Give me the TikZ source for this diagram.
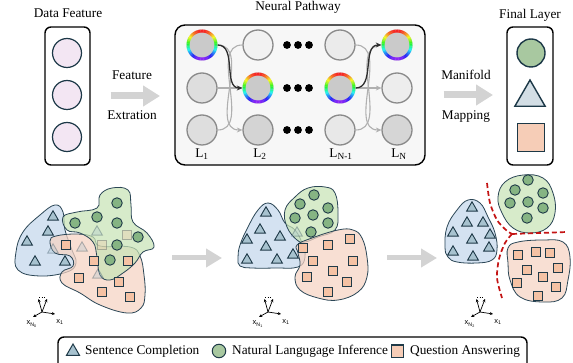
\documentclass[tikz,border=0pt]{standalone}
\usepackage{fontspec}
\setmainfont{Liberation Serif}
\newfontfamily\axfont{Liberation Sans}
\usetikzlibrary{arrows.meta,shapes.geometric,calc}
\definecolor{navy}{HTML}{1C3847}
\definecolor{pinkf}{HTML}{F3E6F3}
\definecolor{ngray}{HTML}{8A8A8A}
\definecolor{rainfill}{HTML}{CACACA}
\definecolor{lgray}{HTML}{B0B0B0}
\definecolor{dk}{HTML}{2E2E2E}
\definecolor{arrgray}{HTML}{D3D3D3}
\definecolor{panelbg}{HTML}{F7F7F7}
\definecolor{gfin}{HTML}{A8C8A0}
\definecolor{bfin}{HTML}{D3DEE5}
\definecolor{sfin}{HTML}{F6CDB7}
\definecolor{blobB}{HTML}{C4D8EC}
\definecolor{blobG}{HTML}{C8E4B6}
\definecolor{blobP}{HTML}{F6D3C3}
\definecolor{blobline}{HTML}{2B4656}
\definecolor{mkB}{HTML}{A7C2CF}
\definecolor{mkG}{HTML}{86B483}
\definecolor{mkS}{HTML}{F5C2A4}
\definecolor{mkline}{HTML}{1F3A48}
\definecolor{redd}{HTML}{C41414}
\newcommand\rainbowring[1]{%
  \foreach \a in {0,6,...,354}{%
    \pgfmathtruncatemacro\hh{135*(1+sin(\a+3))}%
    \definecolor{rc}{Hsb}{\hh,0.85,0.97}%
    \draw[rc, line width=3pt] ($(#1)+(\a:14)$) arc[start angle=\a, end angle=\a+6.6, radius=14];
  }}
\tikzset{
  lbl/.style={font=\fontsize{13.3}{15}\selectfont, inner sep=0, anchor=base},
  panel/.style={draw=black, line width=1.4pt, rounded corners=6pt, fill=white, inner sep=0},
  dfeat/.style={circle, draw=navy, line width=1.2pt, fill=pinkf, minimum size=29pt, inner sep=0},
  ncirc/.style={circle, draw=ngray, line width=1.3pt, minimum size=30pt, inner sep=0, fill=#1},
  nrain/.style={circle, minimum size=31pt, inner sep=0, fill=rainfill},
  conng/.style={draw=lgray, line width=1.1pt},
  connk/.style={draw=dk, line width=1.3pt},
  arrtip/.style={-{Stealth[length=5.5pt,width=5pt]}},
  fatarrow/.style={draw=arrgray, line width=7pt, -{Triangle[length=17pt,width=20pt]}},
  fatarrowsm/.style={draw=arrgray, line width=5pt, -{Triangle[length=16pt,width=18pt]}},
  blob/.style={draw=blobline, line width=0.8pt, fill=#1, fill opacity=0.72},
  tri/.style={regular polygon, regular polygon sides=3, draw=mkline, line width=0.9pt, fill=mkB, minimum size=12.5pt, inner sep=0},
  circm/.style={circle, draw=mkline, line width=0.9pt, fill=mkG, minimum size=10.5pt, inner sep=0},
  sqm/.style={rectangle, draw=mkline, line width=0.9pt, fill=mkS, minimum size=9.5pt, inner sep=0},
  faint/.style={opacity=0.3},
  reddash/.style={draw=redd, line width=1.7pt, dash pattern=on 5pt off 3pt},
  pics/axes/.style={code={
    \draw[line width=0.7pt, -{Stealth[length=3.2pt,width=3pt]}] (0,0) -- (13,2);
    \draw[line width=0.7pt, -{Stealth[length=3.2pt,width=3pt]}] (0,0) -- (-9,5);
    \draw[line width=0.7pt, -{Stealth[length=3.2pt,width=3pt]}] (0,0) -- (-3.5,-13);
    \draw[line width=0.7pt, -{Stealth[length=3.2pt,width=3pt]}] (0,0) -- (5,-13);
    \draw[line width=0.7pt, dotted] (-3,-14.5) -- (5,-14.5);
    \node[font=\axfont\fontsize{7.5}{8}\selectfont, inner sep=0] at (18,10) {x\textsubscript{1}};
    \node[font=\axfont\fontsize{7.5}{8}\selectfont, inner sep=0] at (-10,12) {x\textsubscript{N\textsubscript{#1}}};
  }}
}
\begin{document}
\begin{tikzpicture}[x=1pt,y=-1pt]
\useasboundingbox (0,0) rectangle (573,363);
\fill[white] (0,0) rectangle (573,363);

% ---------- top row ----------
\node[lbl] (tdata) at (68,17.7) {Data Feature};
\node[panel, minimum width=45pt, minimum height=138pt] (dbox) at (67.5,96) {};
\node[dfeat] (df1) at (67,53) {};
\node[dfeat] (df2) at (67,95) {};
\node[dfeat] (df3) at (67,137) {};

\draw[fatarrow, shorten <=20pt, shorten >=15pt] (dbox.east) -- (dbox.east -| 175,0);
\node[lbl] (tfeat) at (132,79.5) {Feature};
\node[lbl] (textr) at (132,119.3) {Extration};

\node[lbl] (tneur) at (298,10.7) {Neural Pathway};
\node[panel, fill=panelbg, rounded corners=10pt, minimum width=250pt, minimum height=140pt] (nbox) at (300,95) {};

% neural circles
\node[nrain] (n11) at (202,45) {};
\node[ncirc=black!13] (n12) at (202,88) {};
\node[ncirc=black!13] (n13) at (202,130) {};
\node[ncirc=black!5] (n21) at (258,45) {};
\node[nrain] (n22) at (258,88) {};
\node[ncirc=black!17] (n23) at (258,130) {};
\node[ncirc=black!8] (n31) at (340,45) {};
\node[nrain] (n32) at (340,88) {};
\node[ncirc=black!9] (n33) at (340,130) {};
\node[nrain] (n41) at (397,45) {};
\node[ncirc=black!7] (n42) at (397,88) {};
\node[ncirc=black!16] (n43) at (397,130) {};
\rainbowring{n11}
\rainbowring{n22}
\rainbowring{n32}
\rainbowring{n41}

\foreach \yy in {45,88,130}
  \foreach \xx in {287,298,309}
    \fill (\xx,\yy) circle (3.9);

% connectors
\draw[conng, arrtip] (n11.east) to[out=0,in=180] (n23.west);
\draw[conng] (n13.east) to[out=0,in=180] (n21.west);
\draw[conng] (n12.east) -- (n22.west);
\draw[connk, arrtip] (n11.east) to[out=0,in=180] (n22.west);
\draw[conng, arrtip] (n31.east) to[out=0,in=180] (n43.west);
\draw[conng] (n33.east) to[out=0,in=180] (n41.west);
\draw[conng, arrtip] (n32.east) -- (n42.west);
\draw[connk, arrtip] (n32.east) to[out=0,in=180] (n41.west);

\node[lbl] (l1) at (202,157.7) {L\textsubscript{1}};
\node[lbl] (l2) at (260,157.7) {L\textsubscript{2}};
\node[lbl] (l3) at (341,157.7) {L\textsubscript{N-1}};
\node[lbl] (l4) at (399,157.7) {L\textsubscript{N}};

\draw[fatarrow, shorten <=18pt, shorten >=14pt] (nbox.east) -- (nbox.east -| 507,0);
\node[lbl] (tman) at (466,80) {Manifold};
\node[lbl] (tmap) at (466,120) {Mapping};

\node[lbl] (tfin) at (530,18.3) {Final Layer};
\node[panel, minimum width=46pt, minimum height=138pt] (fbox) at (530,96) {};
\node[circle, draw=navy, line width=1.4pt, fill=gfin, minimum size=28pt, inner sep=0] (fc) at (531,53) {};
\node[regular polygon, regular polygon sides=3, draw=navy, line width=1.4pt, fill=bfin, minimum size=35pt, inner sep=0] (ft) at (530,97.5) {};
\node[rectangle, draw=navy, line width=1.4pt, fill=sfin, minimum size=27.5pt, inner sep=0] (fs) at (531,137.5) {};

% ---------- bottom: group 1 ----------
\draw[blob=blobB] plot[smooth cycle, tension=0.7] coordinates {(16,252) (23,232) (40,215) (55,205) (63,212) (65,230) (72,250) (76,263) (67,272) (40,276) (18,270)};
\draw[blob=blobP] plot[smooth cycle, tension=0.7] coordinates {(50,241) (56,236) (77,234) (93,237) (100,246) (130,247) (140,256) (144,275) (145,295) (141,308) (127,313) (100,305) (80,293) (62,283) (62,272) (73,266) (70,256) (55,253)};
\draw[blob=blobG] plot[smooth cycle, tension=0.7] coordinates {(63,217) (77,212) (97,208) (100,195) (112,188) (128,190) (131,205) (133,222) (147,233) (154,247) (143,252) (135,263) (123,273) (110,280) (100,275) (97,257) (93,242) (80,233) (67,230)};
\foreach \p [count=\i] in {(53,250),(82,248),(97,232),(98,275)}
  \node[tri, faint] (ga-ft\i) at \p {};
\foreach \p [count=\i] in {(102,245),(127,235)}
  \node[sqm, faint] (ga-fs\i) at \p {};
\foreach \p [count=\i] in {(53,217),(48,232),(27,242),(35,262),(65,262)}
  \node[tri] (ga-t\i) at \p {};
\foreach \p [count=\i] in {(66,245),(94,261),(128,261),(79,278),(119,282),(102,292),(130,297)}
  \node[sqm] (ga-s\i) at \p {};
\foreach \p [count=\i] in {(117,203),(97,217),(75,223),(117,223),(138,237),(117,245),(110,260)}
  \node[circm] (ga-c\i) at \p {};
\pic at (42,312) {axes=0};

\coordinate (b1s) at (172,258);
\coordinate (b1e) at (222,258);
\draw[fatarrowsm] (b1s) -- (b1e);

% ---------- group 2 ----------
\draw[blob=blobB] plot[smooth cycle, tension=0.7] coordinates {(238,258) (240,245) (248,227) (258,210) (268,203) (278,210) (285,223) (295,230) (302,243) (305,257) (298,267) (275,268) (252,268) (240,266)};
\draw[blob=blobG] plot[smooth cycle, tension=0.7] coordinates {(285,210) (295,197) (308,188) (325,187) (335,193) (338,213) (335,230) (318,237) (305,242) (297,240) (287,227)};
\draw[blob=blobP] plot[smooth cycle, tension=0.7] coordinates {(297,245) (312,238) (338,230) (353,230) (362,238) (367,257) (367,277) (358,292) (338,300) (318,298) (300,290) (295,277) (300,265) (298,253)};
\node[tri, faint] (gb-ft1) at (297,233) {};
\foreach \p [count=\i] in {(266,213),(260,230),(280,237),(247,240),(266,247),(247,260),(277,260),(293,255)}
  \node[tri] (gb-t\i) at \p {};
\foreach \p [count=\i] in {(314,195),(300,204),(328,208),(313,215),(295,218),(328,223),(311,232)}
  \node[circm] (gb-c\i) at \p {};
\foreach \p [count=\i] in {(303,248),(328,245),(350,239),(313,261),(353,261),(333,271),(307,277),(347,282),(328,292)}
  \node[sqm] (gb-s\i) at \p {};
\pic at (268,312) {axes=1};

\coordinate (b2s) at (387,258);
\coordinate (b2e) at (437,258);
\draw[fatarrowsm] (b2s) -- (b2e);

% ---------- group 3 ----------
\draw[blob=blobB] plot[smooth cycle, tension=0.7] coordinates {(445,247) (447,227) (457,210) (468,200) (480,203) (488,217) (495,233) (497,250) (492,260) (477,263) (457,262) (448,257)};
\draw[blob=blobG] plot[smooth cycle, tension=0.7] coordinates {(498,197) (505,182) (523,175) (543,178) (553,193) (555,213) (547,228) (530,233) (513,228) (502,213)};
\draw[blob=blobP] plot[smooth cycle, tension=0.7] coordinates {(508,248) (518,242) (543,240) (563,242) (570,257) (568,280) (562,298) (543,302) (520,297) (510,280) (508,263)};
\foreach \p [count=\i] in {(472,208),(467,223),(483,223),(453,233),(472,240),(490,235),(453,252),(473,257),(489,248)}
  \node[tri] (gc-t\i) at \p {};
\foreach \p [count=\i] in {(528,180),(515,190),(543,193),(510,203),(528,202),(543,208),(527,218)}
  \node[circm] (gc-c\i) at \p {};
\foreach \p [count=\i] in {(518,255),(536,252),(550,253),(558,268),(527,270),(543,277),(517,283),(556,287),(538,296)}
  \node[sqm] (gc-s\i) at \p {};
\coordinate (rj) at (512,234);
\draw[reddash] plot[smooth] coordinates {(487,183) (490,203) (497,220) (506,230) (512,234)};
\draw[reddash] (rj) -- (567,232);
\draw[reddash] plot[smooth] coordinates {(512,234) (505,243) (499,259) (497,278) (502,298)};
\pic at (480,312) {axes=2};

% ---------- legend ----------
\node[draw=black, line width=1.4pt, rounded corners=6pt, fill=white, minimum width=469pt, minimum height=32pt, inner sep=0] (legend) at (292.5,353) {};
\node[tri, minimum size=15pt, line width=1pt] (lt) at (73,351.5) {};
\node[lbl, anchor=base west] (ltt) at (85,355) {Sentence Completion};
\node[circm, minimum size=13.5pt, line width=1pt, fill=gfin] (lc) at (219,351) {};
\node[lbl, anchor=base west] (lct) at (232,355) {Natural Langugage Inference};
\node[sqm, minimum size=12pt, line width=1pt, fill=sfin] (ls) at (397,351) {};
\node[lbl, anchor=base west] (lst) at (410,355) {Question Answering};
\end{tikzpicture}
\end{document}
